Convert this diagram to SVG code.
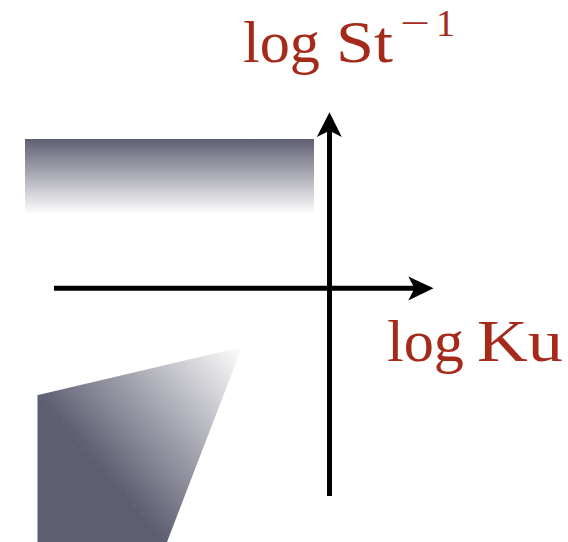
<svg xmlns="http://www.w3.org/2000/svg" width="568" height="542" viewBox="0 0 568 542">
<style>
.lbl{font-family:"Liberation Serif","DejaVu Serif",serif;font-size:60px;fill:#a52a1a}
.sup{font-family:"Liberation Serif","DejaVu Serif",serif;font-size:38px;fill:#a52a1a}
.axis{stroke:#000;stroke-width:5;fill:none}
.head{fill:#000}
</style>
<defs>
<linearGradient id="gRect" x1="0" y1="0" x2="0" y2="1">
<stop offset="0" stop-color="#5e5e72"/>
<stop offset="1" stop-color="#ffffff"/>
</linearGradient>
<linearGradient id="gTri" gradientUnits="userSpaceOnUse" x1="102" y1="469" x2="242" y2="347">
<stop offset="0" stop-color="#5e5e72"/>
<stop offset="1" stop-color="#ffffff"/>
</linearGradient>
</defs>
<g id="region-top">
<rect x="25" y="139" width="289" height="75" fill="url(#gRect)"/>
</g>
<g id="region-bottom">
<polygon points="38,395 242,347 167,542" fill="url(#gTri)"/>
<polygon points="38,395 167,542 38,542" fill="#5e5e72" stroke="#5e5e72" stroke-width="1" stroke-linejoin="round"/>
</g>
<g id="connectors">
<line class="axis" x1="54" y1="288.2" x2="416" y2="288.2"/>
<path class="head" d="M433.5,288.2 L408.3,276.5 L414.5,288.2 L408.3,300.5 Z"/>
<line class="axis" x1="329.5" y1="496" x2="329.5" y2="130"/>
<path class="head" d="M329.5,112.3 L341.8,137 L329.5,130.7 L316.8,137 Z"/>
</g>
<g id="label-y">
<text class="lbl" y="61.5"><tspan x="243" textLength="77" lengthAdjust="spacingAndGlyphs">log</tspan><tspan x="336" textLength="57" lengthAdjust="spacingAndGlyphs">St</tspan></text>
<text class="sup" y="36"><tspan x="400" textLength="30" lengthAdjust="spacingAndGlyphs">−</tspan><tspan x="436">1</tspan></text>
</g>
<g id="label-x">
<text class="lbl" y="360.5"><tspan x="387" textLength="77" lengthAdjust="spacingAndGlyphs">log</tspan><tspan x="477" textLength="86" lengthAdjust="spacingAndGlyphs">Ku</tspan></text>
</g>
</svg>
